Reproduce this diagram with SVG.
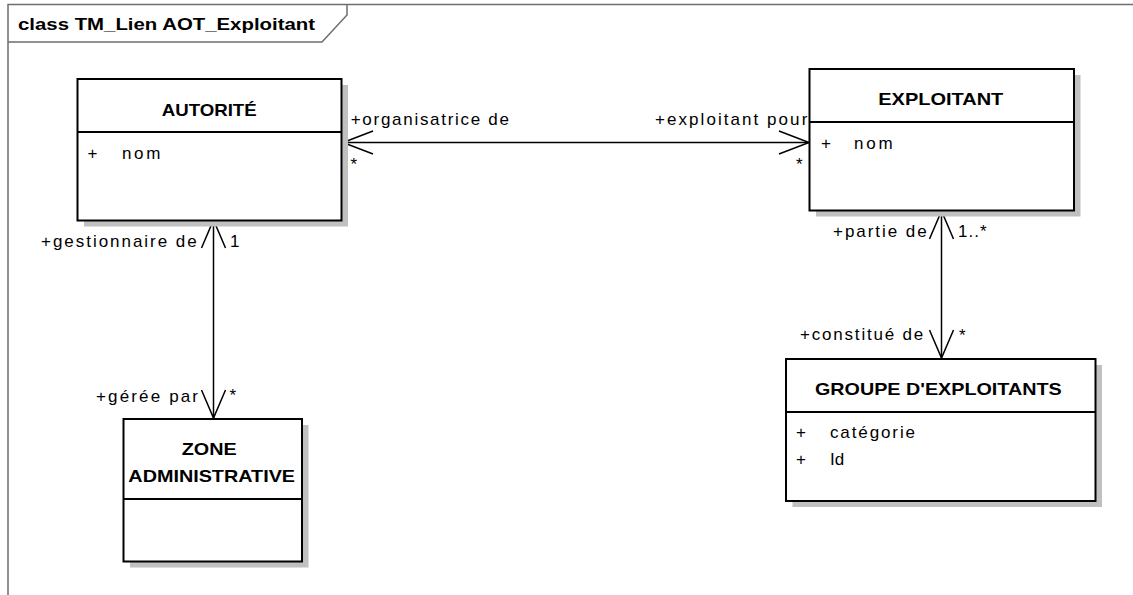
<svg xmlns="http://www.w3.org/2000/svg" width="1133" height="595" viewBox="0 0 1133 595">
  <style>
    .frame { fill: none; stroke: #6e6e6e; stroke-width: 1.5; }
    .shadow { fill: #c0c0c0; stroke: none; }
    .box { fill: #ffffff; stroke: #000000; stroke-width: 2; }
    .div { stroke: #000000; stroke-width: 2; }
    .conn { fill: none; stroke: #000000; stroke-width: 1.5; }
    text { font-family: "Liberation Sans", Arial, sans-serif; fill: #000; }
    .title { font-size: 17px; font-weight: bold; }
    .name { font-size: 17px; font-weight: bold; text-anchor: middle; }
    .attr { font-size: 17px; }
    .lbl { font-size: 17px; }
  </style>

  <rect x="0" y="0" width="1133" height="595" fill="#ffffff"/>

  <!-- diagram frame with name tab -->
  <g id="frame">
    <path class="frame" d="M8,595 V4.5 H1133"/>
    <path class="frame" d="M8,42 H322 L347,15 V4.5"/>
    <text class="title" x="18" y="30" textLength="297" lengthAdjust="spacingAndGlyphs">class TM_Lien AOT_Exploitant</text>
  </g>

  <!-- associations -->
  <g id="connectors">
    <!-- AUTORITE <-> EXPLOITANT -->
    <line class="conn" x1="342" y1="142.5" x2="809" y2="142.5"/>
    <polyline class="conn" points="373,131 343,142.5 373,154"/>
    <polyline class="conn" points="779,131 809,142.5 779,154"/>
    <!-- AUTORITE <-> ZONE ADMINISTRATIVE -->
    <line class="conn" x1="213.5" y1="221" x2="213.5" y2="418"/>
    <polyline class="conn" points="201.5,248 213.5,220 225.5,248"/>
    <polyline class="conn" points="201.5,390 213.5,418 225.5,390"/>
    <!-- EXPLOITANT <-> GROUPE D'EXPLOITANTS -->
    <line class="conn" x1="941.5" y1="211" x2="941.5" y2="358"/>
    <polyline class="conn" points="929.5,239 941.5,211 953.5,239"/>
    <polyline class="conn" points="929.5,330 941.5,358 953.5,330"/>

    <!-- role names and multiplicities -->
    <text class="lbl" x="350.7" y="125" textLength="158.3">+organisatrice de</text>
    <text class="lbl" x="350.5" y="170">*</text>
    <text class="lbl" x="655" y="125" textLength="152.3">+exploitant pour</text>
    <text class="lbl" x="796" y="170">*</text>

    <text class="lbl" x="41" y="246.7" textLength="155.7">+gestionnaire de</text>
    <text class="lbl" x="230" y="247">1</text>
    <text class="lbl" x="96" y="401.7" textLength="102">+gérée par</text>
    <text class="lbl" x="229.5" y="400.5">*</text>

    <text class="lbl" x="833" y="236.7" textLength="93.7">+partie de</text>
    <text class="lbl" x="958" y="236.7" textLength="28.7">1..*</text>
    <text class="lbl" x="800" y="340" textLength="123.3">+constitué de</text>
    <text class="lbl" x="959" y="340.5">*</text>
  </g>

  <!-- AUTORITE -->
  <g id="autorite">
    <rect class="shadow" x="84" y="85" width="264" height="141.5"/>
    <rect class="box" x="77.5" y="79" width="264" height="141.5"/>
    <line class="div" x1="77.5" y1="132" x2="341.5" y2="132"/>
    <text class="name" x="209.2" y="115.7" textLength="95" lengthAdjust="spacingAndGlyphs">AUTORITÉ</text>
    <text class="attr" x="87.5" y="159">+</text>
    <text class="attr" x="122" y="159" textLength="38.3">nom</text>
  </g>

  <!-- EXPLOITANT -->
  <g id="exploitant">
    <rect class="shadow" x="816" y="75" width="264.5" height="141.5"/>
    <rect class="box" x="809.5" y="69" width="264.5" height="141.5"/>
    <line class="div" x1="809.5" y1="122" x2="1074" y2="122"/>
    <text class="name" x="940.8" y="105" textLength="125" lengthAdjust="spacingAndGlyphs">EXPLOITANT</text>
    <text class="attr" x="821" y="149.3">+</text>
    <text class="attr" x="854" y="149.3" textLength="38.7">nom</text>
  </g>

  <!-- ZONE ADMINISTRATIVE -->
  <g id="zone-administrative">
    <rect class="shadow" x="130" y="425" width="178.5" height="142.5"/>
    <rect class="box" x="123.5" y="419" width="178.5" height="142.5"/>
    <line class="div" x1="123.5" y1="499" x2="302" y2="499"/>
    <text class="name" x="209.2" y="455" textLength="55" lengthAdjust="spacingAndGlyphs">ZONE</text>
    <text class="name" x="211.7" y="481.7" textLength="166.7" lengthAdjust="spacingAndGlyphs">ADMINISTRATIVE</text>
  </g>

  <!-- GROUPE D'EXPLOITANTS -->
  <g id="groupe-exploitants">
    <rect class="shadow" x="792.5" y="365" width="309.5" height="142"/>
    <rect class="box" x="786" y="359" width="309.5" height="142"/>
    <line class="div" x1="786" y1="412" x2="1095.5" y2="412"/>
    <text class="name" x="938.3" y="395" textLength="246.7" lengthAdjust="spacingAndGlyphs">GROUPE D'EXPLOITANTS</text>
    <text class="attr" x="796" y="438.3">+</text>
    <text class="attr" x="830" y="438.3" textLength="85">catégorie</text>
    <text class="attr" x="796" y="465">+</text>
    <text class="attr" x="830" y="465">Id</text>
  </g>
</svg>
